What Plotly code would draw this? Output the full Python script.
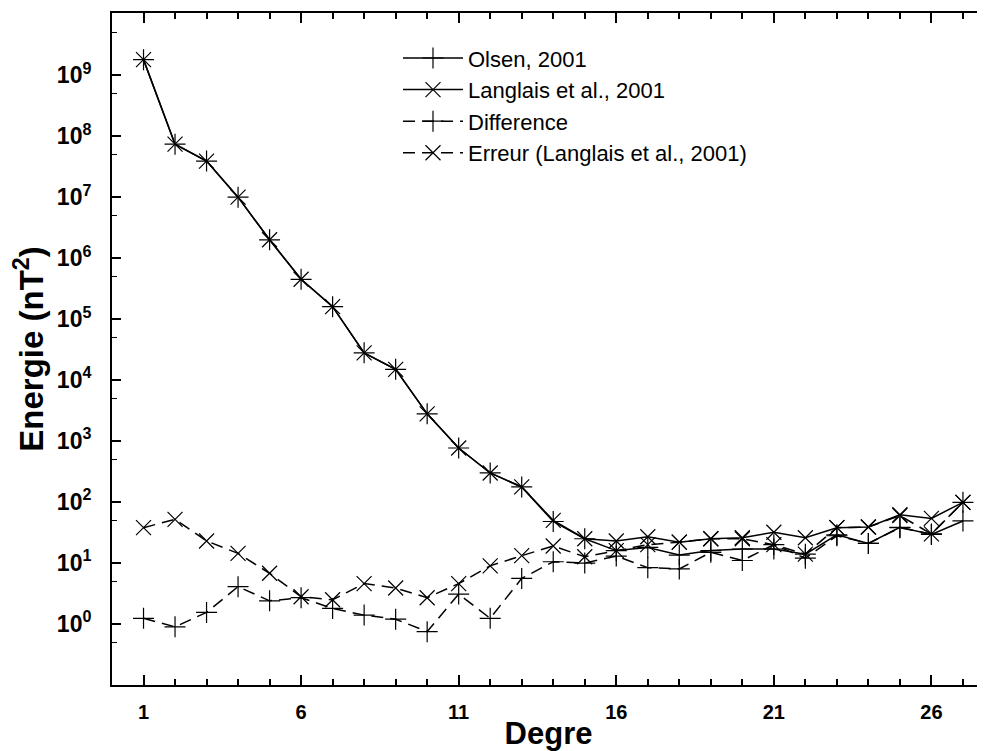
import plotly.graph_objects as go

degrees = list(range(1, 28))
olsen = [1.8e9, 7.4e7, 3.9e7, 1.0e7, 2.0e6, 4.5e5, 1.6e5, 2.8e4, 1.5e4, 2.8e3, 770, 300, 177,
         48, 25, 16, 18, 13.5, 16, 17, 17, 14, 29, 21, 38.5, 29.5, 49]
langlais = [1.8e9, 7.4e7, 3.9e7, 1.0e7, 2.0e6, 4.5e5, 1.6e5, 2.8e4, 1.5e4, 2.8e3, 770, 300, 177,
            50, 25, 23, 27, 22, 25, 26, 32, 26, 38, 39, 62, 54, 99]
difference = [1.24, 0.90, 1.55, 4.1, 2.4, 2.7, 1.8, 1.4, 1.2, 0.75, 3.1, 1.24, 5.6,
              10.5, 10, 13, 8.4, 8.0, 15, 11, 20, 12, 28, 21, 38, 30, 99]
erreur = [38, 52, 23, 14.4, 6.8, 2.8, 2.5, 4.6, 3.9, 2.7, 4.6, 9.0, 13.2,
          19, 12.7, 16, 20, 22, 25, 25, 20, 14, 38, 39, 60, 30, 99]

x_major = [1, 6, 11, 16, 21, 26]
x_all = list(range(1, 28))
y_major = [1e0, 1e1, 1e2, 1e3, 1e4, 1e5, 1e6, 1e7, 1e8, 1e9]
y_labels = ["10<sup>%d</sup>" % i for i in range(10)]
y_minor = [5 * 10 ** i for i in range(-1, 10)]

FONT = "Liberation Sans, Arial, sans-serif"
dash = "12px,7px"
X_RANGE = [0, 27.7]

def series(name, y, symbol, dashed):
    return go.Scatter(
        x=degrees, y=y, name=name, mode="lines+markers",
        line=dict(color="black", width=1.5, dash=dash if dashed else "solid"),
        marker=dict(symbol=symbol, size=15, color="black",
                    line=dict(color="black", width=1.2)),
    )

fig = go.Figure([
    series("Olsen, 2001", olsen, "cross-thin", False),
    series("Langlais et al., 2001", langlais, "x-thin", False),
    series("Difference", difference, "cross-thin", True),
    series("Erreur (Langlais et al., 2001)", erreur, "x-thin", True),
])

tick_common = dict(ticks="inside", ticklen=10, tickwidth=2, tickcolor="black")
minor_x = dict(tickmode="array", tickvals=x_all, ticks="inside", ticklen=6,
               tickwidth=1.5, tickcolor="black")

fig.update_layout(
    width=985, height=751,
    margin=dict(l=104, r=8, t=5, b=74, autoexpand=False),
    paper_bgcolor="white", plot_bgcolor="white",
    font=dict(family=FONT, color="black"),
    showlegend=True,
    legend=dict(x=0.3276, y=0.964, xanchor="left", yanchor="top",
                font=dict(size=22, family=FONT), bgcolor="rgba(0,0,0,0)",
                itemwidth=60, tracegroupgap=0),
    xaxis=dict(
        range=X_RANGE, showgrid=False, zeroline=False, automargin=False,
        showline=True, linecolor="black", linewidth=2, mirror="allticks",
        tickmode="array", tickvals=x_major, ticktext=[str(v) for v in x_major],
        tickfont=dict(size=20, family=FONT, weight="bold"), ticklabelstandoff=8,
        minor=minor_x, layer="above traces",
        title=dict(text="Degre", font=dict(size=31, family=FONT, weight="bold"), standoff=0),
        **tick_common,
    ),
    yaxis=dict(
        type="log", range=[-1, 10.02], showgrid=False, zeroline=False, automargin=False,
        showline=True, linecolor="black", linewidth=2, mirror=False,
        tickmode="array", tickvals=y_major, ticktext=y_labels,
        tickfont=dict(size=23, family=FONT, weight="bold"), ticklabelstandoff=14,
        minor=dict(tickmode="array", tickvals=y_minor, ticks="inside", ticklen=5,
                   tickwidth=1.2, tickcolor="black"),
        title=dict(text="Energie (nT<sup>2</sup>)",
                   font=dict(size=33, family=FONT, weight="bold"), standoff=4),
        **dict(tick_common, ticklen=9, tickwidth=1.5),
    ),
)

fig.write_html("out.html")
